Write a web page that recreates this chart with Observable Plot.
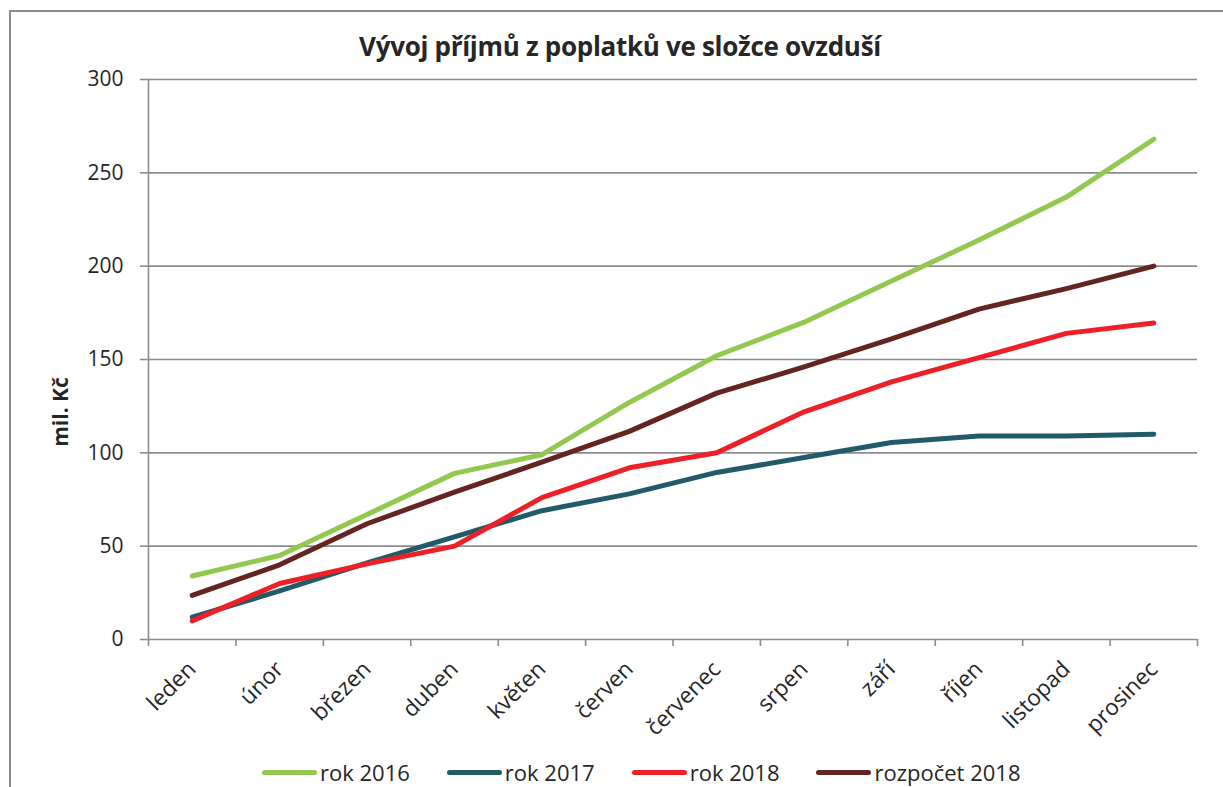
<!DOCTYPE html>
<html>
<head>
<meta charset="utf-8">
<script src="https://cdn.jsdelivr.net/npm/d3@7"></script>
<script src="https://cdn.jsdelivr.net/npm/@observablehq/plot@0.6"></script>
<style>
  html, body { margin: 0; padding: 0; background: #fff; overflow: hidden; }
  body { width: 1223px; height: 787px; position: relative; font-family: "Open Sans", "Noto Sans", sans-serif; color: #262626; }
  #frame { position: absolute; left: 9px; top: 10px; width: 1400px; height: 1000px; border: 2px solid #8c8c8c; box-sizing: border-box; }
  #chart { position: absolute; left: 0; top: 0; }
  #title { position: absolute; left: 0; width: 1240px; top: 28px; text-align: center; font-weight: 700; font-size: 26px; letter-spacing: -0.3px; }
  #ylabel { position: absolute; left: 60px; top: 412px; transform: translate(-50%, -50%) rotate(-90deg); font-weight: 700; font-size: 21px; white-space: nowrap; }
  #legend { position: absolute; top: 757px; left: 262px; display: flex; align-items: center; font-size: 22px; white-space: nowrap; }
  .item { display: flex; align-items: center; margin-right: 37px; }
  .sw { width: 55px; height: 5px; border-radius: 3px; margin-right: 3px; }
</style>
</head>
<body>
<div id="frame"></div>
<div id="chart"></div>
<div id="title">Vývoj příjmů z poplatků ve složce ovzduší</div>
<div id="ylabel">mil. Kč</div>
<div id="legend"></div>
<script>
const months = ["leden","únor","březen","duben","květen","červen","červenec","srpen","září","říjen","listopad","prosinec"];
const rok2016 = [34, 45, 67, 89, 99, 127, 152, 170, 192, 214, 237, 268];
const rok2017 = [12, 26, 41, 55, 69, 78, 89.5, 97.5, 105.5, 109, 109, 110];
const rok2018 = [10, 30, 40.5, 50, 76, 92, 100, 122, 138, 151, 164, 169.5];
const rozpocet2018 = [23.6, 40, 62, 79, 95, 111.5, 132, 146, 161, 177, 188, 200];
const seriesNames = ["rok 2016", "rok 2017", "rok 2018", "rozpočet 2018"];
const seriesColors = ["#92c84f", "#215b69", "#ee1f26", "#642422"];
const yTicks = [0, 50, 100, 150, 200, 250, 300];

const seriesValues = [rok2016, rok2017, rok2018, rozpocet2018];
const data = [];
seriesNames.forEach((name, s) => {
  seriesValues[s].forEach((v, i) => data.push({series: name, month: i, value: v}));
});
const monthIdx = months.map((m, i) => i);
const boundaries = d3.range(-0.5, months.length, 1);

const gray = "#8c8c8c";
const chart = Plot.plot({
  width: 1223,
  height: 700,
  marginTop: 79,
  marginBottom: 61,
  marginLeft: 148,
  marginRight: 26,
  style: {fontFamily: '"Open Sans", "Noto Sans", sans-serif', fontSize: "21px", color: "#262626", background: "transparent", overflow: "visible"},
  x: {type: "linear", domain: [-0.5, months.length - 0.5]},
  y: {domain: [0, 300]},
  color: {domain: seriesNames, range: seriesColors},
  marks: [
    Plot.gridY(yTicks, {stroke: gray, strokeOpacity: 1, strokeWidth: 1.6}),
    Plot.ruleX([-0.5], {y1: 0, y2: 300, stroke: gray, strokeWidth: 1.6}),
    Plot.axisY(yTicks, {tickSize: 8, tickPadding: 17, stroke: gray, strokeWidth: 1.6, label: null, fill: "#262626", fontSize: 21}),
    Plot.axisX(boundaries, {tickSize: 7, tickFormat: () => "", stroke: gray, strokeWidth: 1.6, label: null}),
    Plot.axisX(monthIdx, {tickSize: 0, tickPadding: 26, tickRotate: -45, tickFormat: i => months[i], label: null, fill: "#262626", fontSize: 22.5}),
    Plot.line(data, {x: "month", y: "value", z: "series", stroke: "series", strokeWidth: 5, strokeLinecap: "round", strokeLinejoin: "round"})
  ]
});
document.getElementById("chart").appendChild(chart);

const legend = document.getElementById("legend");
seriesNames.forEach((name, i) => {
  const item = document.createElement("div");
  item.className = "item";
  const sw = document.createElement("div");
  sw.className = "sw";
  sw.style.background = seriesColors[i];
  const t = document.createElement("span");
  t.textContent = name;
  item.appendChild(sw);
  item.appendChild(t);
  legend.appendChild(item);
});
</script>
</body>
</html>
